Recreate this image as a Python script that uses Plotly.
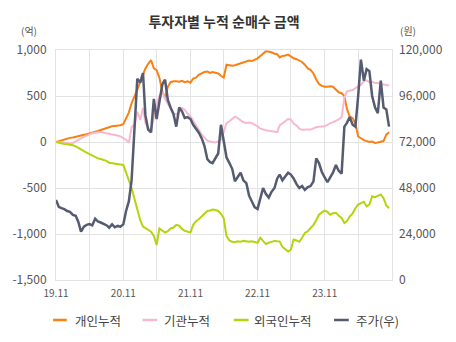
import plotly.graph_objects as go

# semi-monthly dates 2019-11-01 .. 2024-10-16
dates = []
y, m = 2019, 11
for k in range(60):
    dates.append(f"{y}-{m:02d}-01")
    dates.append(f"{y}-{m:02d}-16")
    m += 1
    if m > 12:
        m = 1
        y += 1

individual = [
    0, 10, 20, 28, 35, 45, 50, 55, 62, 70,
    78, 85, 92, 98, 110, 120, 130, 140, 150, 165,
    172, 175, 178, 182, 195, 250, 320, 420, 490, 570,
    650, 740, 800, 850, 890, 800, 780, 700, 550, 480,
    600, 650, 660, 660, 655, 665, 650, 660, 645, 690,
    700, 730, 750, 760, 765, 750, 760, 755, 745, 720,
    700, 840, 835, 830, 835, 845, 850, 860, 873, 885,
    880, 895, 910, 935, 960, 985, 980, 975, 960, 955,
    920, 935, 940, 950, 930, 910, 900, 885, 870, 840,
    800, 785, 745, 680, 630, 610, 600, 600, 605, 600,
    570, 540, 530, 500, 360, 280, 260, 200, 60, 40,
    20, 10, 0, 5, -10, -5, 0, 10, 80, 105,
]

institution = [
    0, 0, -5, -8, -10, -15, -10, 10, 25, 40,
    55, 70, 80, 95, 100, 105, 108, 100, 95, 90,
    85, 76, 70, 60, 45, 25, -10, 160, 190, 330,
    240, 370, 210, 150, 135, 270, 400, 500, 545, 470,
    420, 360, 310, 300, 330, 370, 350, 310, 280, 230,
    180, 130, 80, 50, 15, 5, 0, -5, 5, 25,
    110, 205, 225, 255, 275, 260, 240, 215, 206, 212,
    205, 190, 170, 145, 135, 128, 123, 118, 112, 108,
    180, 200, 225, 250, 245, 200, 180, 145, 132, 130,
    135, 135, 150, 160, 165, 170, 170, 185, 205, 215,
    230, 245, 270, 480, 550, 560, 565, 585, 600, 620,
    660, 670, 650, 655, 640, 640, 630, 625, 620, 615,
]

foreign = [
    0, -10, -18, -22, -25, -28, -35, -47, -65, -85,
    -100, -115, -130, -150, -165, -178, -185, -192, -205, -225,
    -232, -238, -242, -245, -250, -330, -400, -500, -620, -720,
    -850, -920, -935, -960, -975, -1020, -1120, -940, -960, -985,
    -970, -940, -930, -900, -910, -945, -965, -975, -985, -900,
    -860, -840, -810, -790, -750, -745, -735, -740, -750, -780,
    -830, -1020, -1070, -1085, -1090, -1080, -1085, -1075, -1080, -1085,
    -1080, -1090, -1095, -1040, -1080, -1110, -1095, -1085, -1075, -1078,
    -1080, -1140, -1165, -1190, -1170, -1060, -1070, -1085, -1040, -990,
    -970, -940, -900, -850, -790, -765, -745, -760, -790, -775,
    -770, -800, -825, -880, -860, -810, -775, -720, -680, -665,
    -650, -700, -680, -590, -600, -585, -570, -610, -690, -720,
]

price = [
    41700, 38200, 37500, 37000, 36000, 35600, 34000, 33500, 30400, 25200,
    27800, 28800, 29200, 28500, 32000, 30500, 30000, 29500, 28600, 27300,
    29000, 27500, 28200, 27800, 29000, 36000, 41000, 52000, 80000, 105000,
    103000, 108000, 86000, 78500, 77000, 94500, 84000, 93000, 102000, 104500,
    94000, 90000, 86500, 80000, 90000, 88000, 84500, 85000, 84000, 81000,
    79000, 77000, 74000, 70000, 63000, 61500, 61000, 63500, 66000, 81000,
    73000, 64000, 61000, 58000, 51500, 54000, 56000, 52000, 50500, 44000,
    40500, 38000, 37000, 43000, 48000, 45000, 43000, 46000, 48000, 53000,
    55000, 52000, 54000, 56000, 55000, 53000, 50000, 48000, 49000, 47000,
    48500, 49000, 51500, 63500, 61000, 56500, 53500, 51000, 53500, 56000,
    60000, 57000, 55500, 80000, 82000, 85000, 81000, 80000, 96000, 115000,
    104000, 110000, 109000, 96000, 90000, 87000, 104000, 90000, 89000, 80000,
]

series_names = ["개인누적", "기관누적", "외국인누적", "주가(우)"]
colors = ["#F98012", "#F7B9CE", "#B6D30E", "#555B70"]

x_tickvals = ["2019-11-01", "2020-05-01", "2020-11-01", "2021-05-01", "2021-11-01",
              "2022-05-01", "2022-11-01", "2023-05-01", "2023-11-01", "2024-05-01",
              "2024-11-01"]
x_ticktext = ["19.11", "", "20.11", "", "21.11", "", "22.11", "", "23.11", "", ""]
y_tickvals = [-1500, -1000, -500, 0, 500, 1000]
y_ticktext = ["-1,500", "-1,000", "-500", "0", "500", "1,000"]
y2_tickvals = [0, 24000, 48000, 72000, 96000, 120000]
y2_ticktext = ["0", "24,000", "48,000", "72,000", "96,000", "120,000"]

FONT = "Noto Sans CJK KR, Noto Sans, sans-serif"
GRID = "#E3E3E3"
TICK = "#555555"

fig = go.Figure()
for vals, name, col, w, ax in [
    (individual, series_names[0], colors[0], 2, "y"),
    (institution, series_names[1], colors[1], 2, "y"),
    (foreign, series_names[2], colors[2], 2, "y"),
    (price, series_names[3], colors[3], 2.5, "y2"),
]:
    fig.add_trace(go.Scatter(x=dates, y=vals, name=name, mode="lines",
                             line=dict(color=col, width=w), yaxis=ax,
                             showlegend=False))

fig.update_layout(
    width=456, height=342,
    margin=dict(l=50, r=64, t=50, b=62),
    paper_bgcolor="white", plot_bgcolor="white",
    font=dict(family=FONT, color=TICK),
    title=dict(text="<b>투자자별 누적 순매수 금액</b>", x=0.5, xref="paper",
               y=1 - 22 / 342, yref="container", yanchor="middle", xanchor="center",
               font=dict(size=14, color="#333333", family=FONT)),
    xaxis=dict(type="date", range=["2019-11-01", "2024-11-01"],
               tickmode="array", tickvals=x_tickvals, ticktext=x_ticktext,
               showgrid=True, gridcolor=GRID, gridwidth=1,
               showline=True, linecolor=GRID, mirror=True, zeroline=False,
               ticks="", ticklabelstandoff=4,
               tickfont=dict(size=10, color=TICK, family=FONT)),
    yaxis=dict(range=[-1500, 1000], tickmode="array", tickvals=y_tickvals,
               ticktext=y_ticktext, showgrid=True, gridcolor=GRID, zeroline=False,
               showline=True, linecolor=GRID, mirror=True,
               ticks="", ticklabelstandoff=6,
               tickfont=dict(size=12, color=TICK, family=FONT)),
    yaxis2=dict(range=[0, 120000], overlaying="y", side="right", tickmode="array",
                tickvals=y2_tickvals, ticktext=y2_ticktext, showgrid=False,
                zeroline=False, ticks="", ticklabelstandoff=6,
                tickfont=dict(size=12, color=TICK, family=FONT)),
)

# unit labels
fig.add_annotation(text="(억)", xref="paper", yref="paper", x=(23 - 50) / 342,
                   y=(280 - 30) / 230, showarrow=False, xanchor="center",
                   yanchor="middle", font=dict(size=10, color=TICK, family=FONT))
fig.add_annotation(text="(원)", xref="paper", yref="paper", x=(408 - 50) / 342,
                   y=(280 - 30) / 230, showarrow=False, xanchor="center",
                   yanchor="middle", font=dict(size=10, color=TICK, family=FONT))

# manual legend
leg_items = [(47, 61, 67), (138, 153, 158), (231, 246, 250), (333, 348, 353)]
ly = (280 - 320) / 230
for (x0, x1, xt), name, col in zip(leg_items, series_names, colors):
    fig.add_shape(type="line", xref="paper", yref="paper",
                  x0=(x0 - 50) / 342, x1=(x1 - 50) / 342, y0=ly, y1=ly,
                  line=dict(color=col, width=2.5))
    fig.add_annotation(text=name, xref="paper", yref="paper", x=(xt - 50) / 342,
                       y=ly, showarrow=False, xanchor="left", yanchor="middle",
                       font=dict(size=12.5, color="#444444", family=FONT))

fig.write_html("out.html")
